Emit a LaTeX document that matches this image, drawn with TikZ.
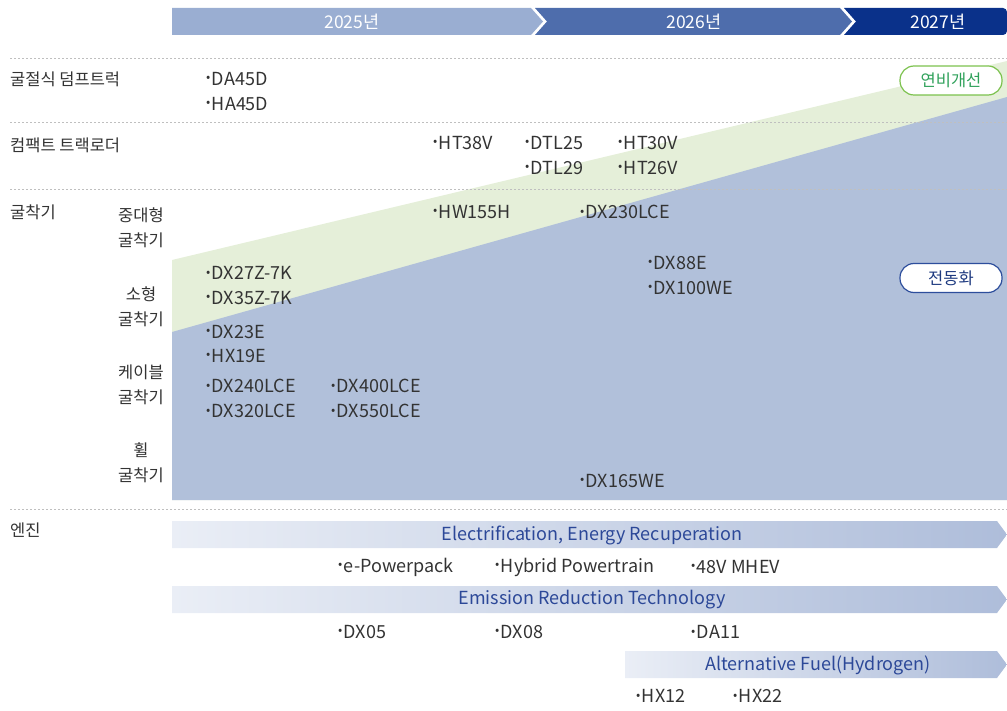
\documentclass[tikz,border=0pt]{standalone}
\usepackage{fontspec}
\setmainfont{Noto Sans CJK KR}
\begin{document}
\begin{tikzpicture}[x=1pt,y=-1pt,
  txt/.style={inner sep=0pt, text=black!80, font=\fontsize{16.5}{19}\selectfont},
  lbl/.style={txt, anchor=west},
  sublbl/.style={txt, align=center, font=\fontsize{16.5}{25}\selectfont},
  item/.style={inner sep=0pt, anchor=west, text=black!80, font=\fontsize{18}{20}\selectfont},
  year/.style={inner sep=0pt, text=white, font=\fontsize{17.5}{19}\selectfont},
  band/.style={inner sep=0pt, text=bandtxt, font=\fontsize{18}{20}\selectfont},
  sep/.style={draw=black!25, dash pattern=on 2pt off 2pt, line width=0.8pt},
  badge/.style={rounded corners=14pt, fill=white, line width=1.2pt, minimum width=102pt, minimum height=29pt, inner sep=0pt, font=\fontsize{16.5}{19}\selectfont}
]
\definecolor{yA}{HTML}{9AAED2}
\definecolor{yB}{HTML}{4E6DAC}
\definecolor{yC}{HTML}{0A318A}
\definecolor{greenA}{HTML}{E5EFD9}
\definecolor{blueA}{HTML}{B1C0DA}
\definecolor{bandL}{HTML}{EAEEF6}
\definecolor{bandR}{HTML}{AEBDDA}
\definecolor{bandtxt}{HTML}{2C4898}
\definecolor{gtxt}{HTML}{2FA15A}
\definecolor{gbrd}{HTML}{7CC24E}
\definecolor{btxt}{HTML}{1E3A80}
\definecolor{bbrd}{HTML}{2D4E9C}

\useasboundingbox (0,0) rectangle (1007,711);

% header
\fill[yA] (172,8) -- (531,8) -- (543,21.5) -- (531,35) -- (172,35) -- cycle;
\fill[yB] (535,8) -- (840,8) -- (852,21.5) -- (840,35) -- (535,35) -- (547,21.5) -- cycle;
\fill[yC] (844,8) {[rounded corners=4pt] -- (1007,8) -- (1007,35)} -- (844,35) -- (856,21.5) -- cycle;
\node[year] (y25) at (352,21.5) {2025년};
\node[year] (y26) at (694,21.5) {2026년};
\node[year] (y27) at (938,21.5) {2027년};

% areas
\fill[greenA] (172,260) -- (1007,61) -- (1007,500) -- (172,500) -- cycle;
\fill[blueA] (172,332) -- (1007,97) -- (1007,500) -- (172,500) -- cycle;

% separators
\foreach \yy in {58,122,189,509} \draw[sep] (10,\yy) -- (1007,\yy);

% badges
\node[badge, draw=gbrd, text=gtxt] (eff) at (951,80.5) {연비개선};
\node[badge, draw=bbrd, text=btxt] (elec) at (951,278) {전동화};

% left labels
\node[lbl] (l1) at (10,79) {굴절식 덤프트럭};
\node[lbl] (l2) at (10,145) {컴팩트 트랙로더};
\node[lbl] (l3) at (10,212) {굴착기};
\node[sublbl] (s1) at (141,228) {중대형\\굴착기};
\node[sublbl] (s2) at (141,307) {소형\\굴착기};
\node[sublbl] (s3) at (141,385) {케이블\\굴착기};
\node[sublbl] (s4) at (141,463) {휠\\굴착기};
\node[lbl] (l4) at (10,530) {엔진};

% items
\newcommand{\bul}{\raisebox{3.5pt}{\fontsize{12.5}{12}\selectfont •}\kern1.5pt}
\node[item] (i1) at (206,79) {\bul DA45D};
\node[item] (i2) at (206,104) {\bul HA45D};
\node[item] (i3) at (433,143) {\bul HT38V};
\node[item] (i4) at (525,143) {\bul DTL25};
\node[item] (i5) at (525,168) {\bul DTL29};
\node[item] (i6) at (618,143) {\bul HT30V};
\node[item] (i7) at (618,168) {\bul HT26V};
\node[item] (i8) at (433,212) {\bul HW155H};
\node[item] (i9) at (580,212) {\bul DX230LCE};
\node[item] (i10) at (648,263) {\bul DX88E};
\node[item] (i11) at (648,288) {\bul DX100WE};
\node[item] (i12) at (206,273) {\bul DX27Z-7K};
\node[item] (i13) at (206,298) {\bul DX35Z-7K};
\node[item] (i14) at (206,332) {\bul DX23E};
\node[item] (i15) at (206,356) {\bul HX19E};
\node[item] (i16) at (206,386) {\bul DX240LCE};
\node[item] (i17) at (206,411) {\bul DX320LCE};
\node[item] (i18) at (331,386) {\bul DX400LCE};
\node[item] (i19) at (331,411) {\bul DX550LCE};
\node[item] (i20) at (580,481) {\bul DX165WE};

% engine bands
\shade[left color=bandL, right color=bandR] (172,521) -- (997,521) -- (1007,534.5) -- (997,548) -- (172,548) -- cycle;
\node[band] (b1) at (592,535) {Electrification, Energy Recuperation};
\node[item] (e1) at (338,567) {\bul e-Powerpack};
\node[item] (e2) at (495,567) {\bul Hybrid Powertrain};
\node[item] (e3) at (691,567) {\bul 48V MHEV};
\shade[left color=bandL, right color=bandR] (172,586) -- (997,586) -- (1007,599.5) -- (997,613) -- (172,613) -- cycle;
\node[band] (b2) at (592,600) {Emission Reduction Technology};
\node[item] (e4) at (338,632) {\bul DX05};
\node[item] (e5) at (495,632) {\bul DX08};
\node[item] (e6) at (691,632) {\bul DA11};
\shade[left color=bandL, right color=bandR] (625,651) -- (997,651) -- (1007,664.5) -- (997,678) -- (625,678) -- cycle;
\node[band] (b3) at (818,665) {Alternative Fuel(Hydrogen)};
\node[item] (e7) at (636,696) {\bul HX12};
\node[item] (e8) at (733,696) {\bul HX22};
\end{tikzpicture}
\end{document}
